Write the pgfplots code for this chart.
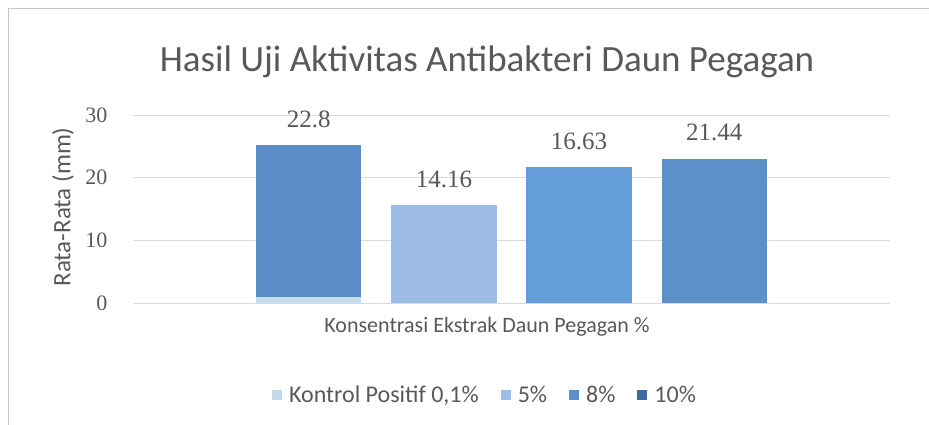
\documentclass[border=0pt]{standalone}
\usepackage{pgfplots}
\pgfplotsset{compat=1.18}
\usepackage{fontspec}
\setmainfont{Carlito}
\newfontfamily\numfont{Liberation Serif}
\definecolor{txt}{HTML}{595959}
\definecolor{cA}{HTML}{5B8EC6}
\definecolor{cB}{HTML}{9DBDE6}
\definecolor{cC}{HTML}{659DDB}
\definecolor{cD}{HTML}{5B90C8}
\definecolor{cL}{HTML}{C8DCEF}
\definecolor{lgA}{HTML}{C5D8EA}
\definecolor{lgB}{HTML}{9DBDE6}
\definecolor{lgC}{HTML}{5B8FC7}
\definecolor{lgD}{HTML}{3D6AA4}
\begin{document}
\begin{tikzpicture}[x=1pt,y=1pt]
\useasboundingbox (0,0) rectangle (929,425);
\fill[white] (0,0) rectangle (929,425);
\draw[black!22] (8,0) -- (8,417) -- (929,417);
\node[font=\fontsize{37}{42}\selectfont, text=txt] at (487,363) {Hasil Uji Aktivitas Antibakteri Daun Pegagan};
\node[rotate=90, font=\fontsize{25}{28}\selectfont, text=txt] at (63,218) {Rata-Rata (mm)};
\node[font=\fontsize{22}{26}\selectfont, text=txt] at (487,98) {Konsentrasi Ekstrak Daun Pegagan \%};
\begin{axis}[
  at={(133pt,122pt)}, anchor=south west,
  scale only axis, width=757pt, height=188pt,
  xmin=-1.3, xmax=4.3, ymin=0, ymax=30,
  ytick={0,10,20,30}, xtick=\empty,
  ymajorgrids, grid style={black!15, line width=0.8pt},
  axis line style={draw=none}, major tick length=0pt,
  /pgf/number format/assume math mode=true,
  yticklabel style={font=\numfont\fontsize{22}{25}\selectfont, text=txt, xshift=-22pt},
  clip=false,
  legend style={at={(rel axis cs:0.465,-0.49)}, anchor=center, draw=none, fill=none,
    font=\fontsize{24}{28}\selectfont, text=txt, legend columns=-1,
    /tikz/every odd column/.append style={column sep=5pt},
    /tikz/every even column/.append style={column sep=20pt}},
  legend image code/.code={\fill[#1] (0pt,-5pt) rectangle (10pt,5pt);},
  every node near coord/.append style={font=\numfont\fontsize{25}{29}\selectfont, text=txt, yshift=14pt},
]
\addplot[ybar, bar shift=0pt, bar width=0.78, fill=cA, draw=none, forget plot,
  nodes near coords, point meta=explicit symbolic] table[meta=label] {
x y label
0 25.2 22.8
};
\addplot[ybar, bar shift=0pt, bar width=0.78, fill=cL, draw=none, forget plot] coordinates {(0,1.0)};
\addplot[ybar, bar shift=0pt, bar width=0.78, fill=cB, draw=none, forget plot,
  nodes near coords, point meta=explicit symbolic] table[meta=label] {
x y label
1 15.6 14.16
};
\addplot[ybar, bar shift=0pt, bar width=0.78, fill=cC, draw=none, forget plot,
  nodes near coords, point meta=explicit symbolic] table[meta=label] {
x y label
2 21.7 16.63
};
\addplot[ybar, bar shift=0pt, bar width=0.78, fill=cD, draw=none, forget plot,
  nodes near coords, point meta=explicit symbolic] table[meta=label] {
x y label
3 23.0 21.44
};
\addlegendimage{fill=lgA, draw=none}
\addlegendentry{Kontrol Positif 0,1\%}
\addlegendimage{fill=lgB, draw=none}
\addlegendentry{5\%}
\addlegendimage{fill=lgC, draw=none}
\addlegendentry{8\%}
\addlegendimage{fill=lgD, draw=none}
\addlegendentry{10\%}
\end{axis}
\end{tikzpicture}
\end{document}
